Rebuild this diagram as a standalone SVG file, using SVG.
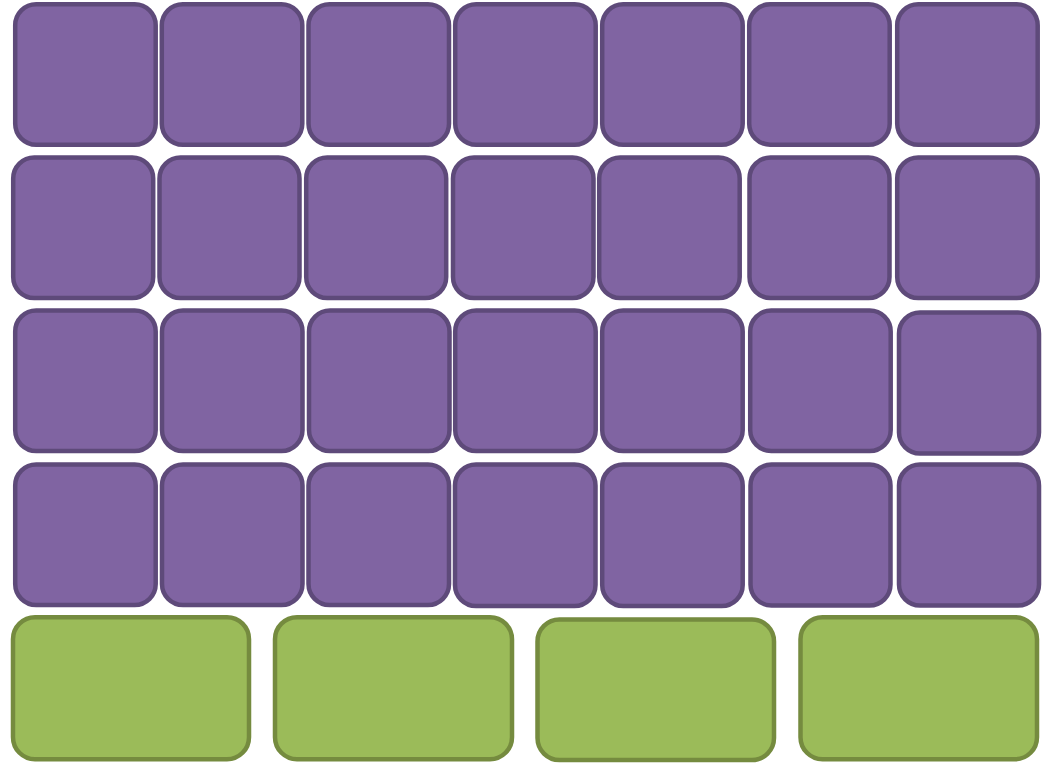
<svg xmlns="http://www.w3.org/2000/svg" width="1051" height="763" viewBox="0 0 1051 763">
<style>
.p{fill:#8064A2;stroke:#5E4A7A;stroke-width:4.5}
.g{fill:#9BBB59;stroke:#758B3F;stroke-width:4.5}
</style>
<rect width="1051" height="763" fill="#FFFFFF"/>
<g id="r1c1"><rect class="p" x="15.2" y="4.2" width="140.5" height="140.5" rx="21"/></g>
<g id="r1c2"><rect class="p" x="161.8" y="4.2" width="140.5" height="140.5" rx="21"/></g>
<g id="r1c3"><rect class="p" x="308.5" y="4.2" width="140.5" height="140.5" rx="21"/></g>
<g id="r1c4"><rect class="p" x="455.2" y="4.2" width="140.5" height="140.5" rx="21"/></g>
<g id="r1c5"><rect class="p" x="602.2" y="4.2" width="140.5" height="140.5" rx="21"/></g>
<g id="r1c6"><rect class="p" x="749.2" y="4.2" width="140.5" height="140.5" rx="21"/></g>
<g id="r1c7"><rect class="p" x="897.2" y="4.2" width="140.5" height="140.5" rx="21"/></g>

<g id="r2c1"><rect class="p" x="13.2" y="157.5" width="140" height="140.5" rx="21"/></g>
<g id="r2c2"><rect class="p" x="159.5" y="157.5" width="140" height="140.5" rx="21"/></g>
<g id="r2c3"><rect class="p" x="306.2" y="157.5" width="140" height="140.5" rx="21"/></g>
<g id="r2c4"><rect class="p" x="453" y="157.5" width="140.5" height="140.5" rx="21"/></g>
<g id="r2c5"><rect class="p" x="599.2" y="157.5" width="140.5" height="140.5" rx="21"/></g>
<g id="r2c6"><rect class="p" x="749.5" y="157.5" width="140" height="140.5" rx="21"/></g>
<g id="r2c7"><rect class="p" x="897.2" y="157.5" width="140.5" height="140.5" rx="21"/></g>

<g id="r3c1"><rect class="p" x="15.2" y="310.5" width="140.5" height="140.5" rx="21"/></g>
<g id="r3c2"><rect class="p" x="162" y="310.5" width="140.5" height="140.5" rx="21"/></g>
<g id="r3c3"><rect class="p" x="309" y="310.5" width="140.5" height="140.5" rx="21"/></g>
<g id="r3c4"><rect class="p" x="455.2" y="310.5" width="140.5" height="140.5" rx="21"/></g>
<g id="r3c5"><rect class="p" x="602.2" y="310.5" width="140.5" height="140.5" rx="21"/></g>
<g id="r3c6"><rect class="p" x="750.2" y="310.5" width="140.5" height="140.5" rx="21"/></g>
<g id="r3c7"><rect class="p" x="899" y="312.5" width="140" height="141" rx="21"/></g>

<g id="r4c1"><rect class="p" x="15.2" y="464.5" width="140.5" height="140.5" rx="21"/></g>
<g id="r4c2"><rect class="p" x="162" y="464.5" width="140.5" height="140.5" rx="21"/></g>
<g id="r4c3"><rect class="p" x="308.5" y="464.5" width="140.5" height="140.5" rx="21"/></g>
<g id="r4c4"><rect class="p" x="455" y="464.5" width="140.5" height="141.5" rx="21"/></g>
<g id="r4c5"><rect class="p" x="602.2" y="464.5" width="140.5" height="141.5" rx="21"/></g>
<g id="r4c6"><rect class="p" x="750.5" y="464.5" width="140" height="141" rx="21"/></g>
<g id="r4c7"><rect class="p" x="899" y="464.5" width="140" height="141" rx="21"/></g>

<g id="g1"><rect class="g" x="13" y="617.2" width="236" height="142" rx="22"/></g>
<g id="g2"><rect class="g" x="275" y="617.2" width="237" height="142" rx="22"/></g>
<g id="g3"><rect class="g" x="537.5" y="619.5" width="236.5" height="140.5" rx="22"/></g>
<g id="g4"><rect class="g" x="800.5" y="617.2" width="236.5" height="142" rx="22"/></g>
<g id="connectors"/>
</svg>
